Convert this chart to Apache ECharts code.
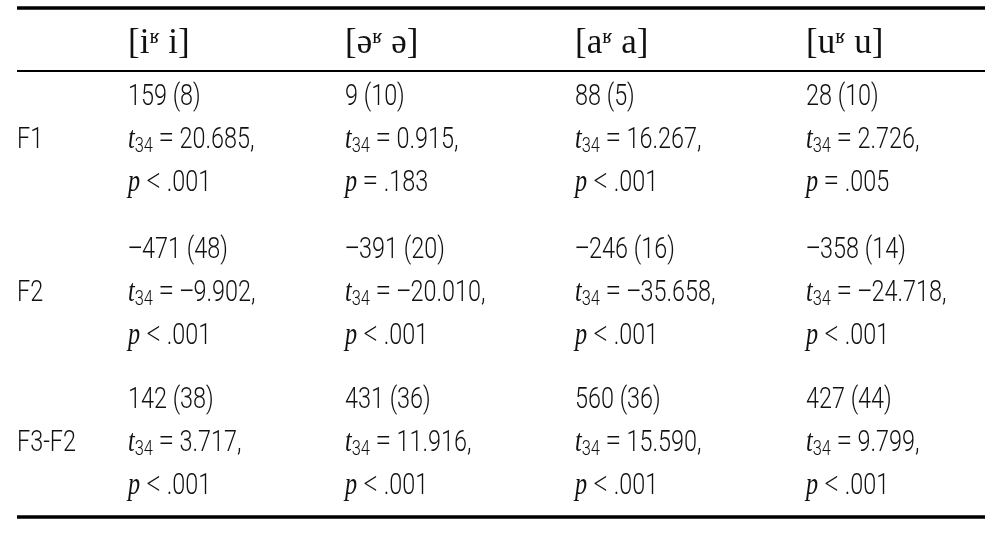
<!DOCTYPE html>
<html><head><meta charset="utf-8">
<script src="https://cdn.jsdelivr.net/npm/echarts@6/dist/echarts.min.js"></script>
<style>html,body{margin:0;padding:0;background:#fff}#c{width:993px;height:558px}</style>
</head><body><div id="c"></div>
<script>
const vowels = [['i','i'],['ə','ə'],['a','a'],['u','u']];
const rowLabels = ['F1','F2','F3-F2'];
const means = [[159,9,88,28],[-471,-391,-246,-358],[142,431,560,427]];
const sds = [[8,10,5,10],[48,20,16,14],[38,36,36,44]];
const tVals = [['20.685','0.915','16.267','2.726'],['−9.902','−20.010','−35.658','−24.718'],['3.717','11.916','15.590','9.799']];
const pOps = [['<','=','<','='],['<','<','<','<'],['<','<','<','<']];
const pVals = [['.001','.183','.001','.005'],['.001','.001','.001','.001'],['.001','.001','.001','.001']];

const chart = echarts.init(document.getElementById('c'));
const BODY = "Roboto,'Liberation Sans',sans-serif";
const SERIF = "'Liberation Serif','DejaVu Serif',serif";
const colX = [128, 345, 575, 806];
const labelX = 17;
const blockY = [140, 293, 443];
const lineGap = 43;
const rich = {
  n:{fontFamily:BODY,fontWeight:300,fontSize:30,fill:'#111'},
  m:{fontFamily:SERIF,fontSize:32,fill:'#111'},
  it:{fontFamily:SERIF,fontStyle:'italic',fontSize:31,fill:'#111'},
  sub:{fontFamily:BODY,fontWeight:300,fontSize:21,fill:'#111',padding:[14,0,0,0]},
  h:{fontFamily:SERIF,fontSize:35,fill:'#111'},
  sup:{fontFamily:SERIF,fontSize:21,fill:'#111',padding:[0,0,14,0]}
};
const fmtNum = v => v < 0 ? '{m|−}{n|' + Math.abs(v) + '}' : '{n|' + v + '}';
const fmtT = t => t.startsWith('−') ? '{m|−}{n|' + t.slice(1) + ',}' : '{n|' + t + ',}';
const els = [];
function txt(x, y, text, sx) {
  els.push({type:'text', x, y, scaleX:sx||1, style:{text, rich, verticalAlign:'middle', align:'left', fill:'#111'}});
}
function line(y, w) {
  els.push({type:'rect', shape:{x:17, y:y - w/2, width:968, height:w}, style:{fill:'#000'}});
}
line(8, 3.5); line(71, 2.2); line(517, 3.5);
vowels.forEach((v, j) => txt(colX[j], 44, '{h|[' + v[0] + '}{sup|ʁ}{h| ' + v[1] + ']}'));
const SX = 0.78;
rowLabels.forEach((lab, i) => {
  const yc = blockY[i];
  txt(labelX, yc, '{n|' + lab + '}', SX);
  colX.forEach((x, j) => {
    txt(x, yc - lineGap, fmtNum(means[i][j]) + '{n| (' + sds[i][j] + ')}', SX);
    txt(x, yc, '{it|t}{sub|34}{m| = }' + fmtT(tVals[i][j]), SX);
    txt(x, yc + lineGap, '{it|p}{m| ' + pOps[i][j] + ' }{n|' + pVals[i][j] + '}', SX);
  });
});
chart.setOption({animation:false, graphic:{elements:els}});
</script></body></html>
